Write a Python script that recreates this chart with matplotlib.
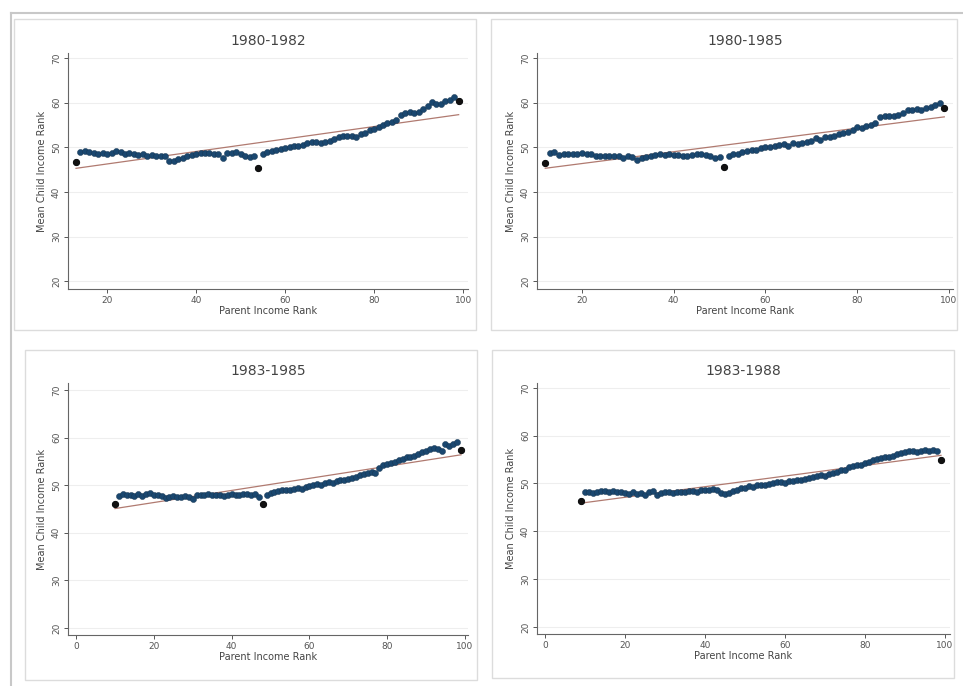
import numpy as np
import matplotlib
matplotlib.use("Agg")
import matplotlib.pyplot as plt
from matplotlib.patches import Rectangle
from matplotlib.lines import Line2D

# mean child income rank by parent income rank, one list per cohort
titles = ["1980-1982", "1980-1985", "1983-1985", "1983-1988"]
first_rank = [13, 12, 10, 9]
dip_rank = [[54], [51], [48], []]   # isolated low points drawn darker

y_8082 = [46.7, 49.0, 49.1, 49.0, 48.8, 48.6, 48.7, 48.6, 48.8, 49.1,
          49.0, 48.6, 48.7, 48.4, 48.3, 48.4, 48.0, 48.2, 48.1, 48.0,
          48.1, 47.0, 46.9, 47.3, 47.6, 48.0, 48.3, 48.5, 48.7, 48.8,
          48.7, 48.6, 48.4, 47.6, 48.8, 48.7, 48.9, 48.6, 48.1, 47.8,
          48.0, 45.4, 48.4, 48.9, 49.2, 49.4, 49.6, 49.8, 50.0, 50.2,
          50.3, 50.6, 51.0, 51.2, 51.1, 51.0, 51.1, 51.5, 51.9, 52.3,
          52.5, 52.6, 52.5, 52.2, 52.9, 53.2, 53.8, 54.2, 54.6, 55.0,
          55.4, 55.6, 56.1, 57.2, 57.7, 57.8, 57.6, 57.9, 58.6, 59.3,
          60.1, 59.6, 59.8, 60.3, 60.6, 61.3, 60.4]

y_8085 = [46.6, 48.8, 49.0, 48.2, 48.6, 48.5, 48.4, 48.6, 48.8, 48.6,
          48.5, 48.1, 48.0, 48.1, 48.0, 48.1, 48.0, 47.7, 48.0, 47.8,
          47.1, 47.6, 47.9, 48.1, 48.2, 48.4, 48.3, 48.5, 48.3, 48.2,
          48.1, 48.0, 48.3, 48.4, 48.4, 48.3, 48.0, 47.6, 47.8, 45.5,
          48.0, 48.4, 48.6, 48.9, 49.1, 49.3, 49.5, 49.8, 50.0, 50.1,
          50.3, 50.5, 50.7, 50.4, 50.9, 50.8, 51.0, 51.3, 51.5, 52.1,
          51.7, 52.2, 52.3, 52.6, 52.9, 53.2, 53.5, 53.8, 54.5, 54.4,
          54.8, 55.0, 55.5, 56.7, 57.0, 57.0, 57.1, 57.2, 57.7, 58.3,
          58.4, 58.5, 58.4, 58.7, 59.1, 59.5, 59.9, 58.8]

y_8385 = [46.0, 47.8, 48.1, 47.9, 48.0, 47.8, 48.1, 47.8, 48.2, 48.3,
          48.0, 47.9, 47.7, 47.4, 47.6, 47.8, 47.5, 47.6, 47.8, 47.5,
          47.0, 47.9, 48.0, 48.0, 48.1, 48.0, 47.9, 48.0, 47.8, 48.0,
          48.1, 48.0, 47.9, 48.1, 48.2, 48.0, 48.1, 47.6, 46.1, 48.0,
          48.3, 48.5, 48.7, 48.9, 49.1, 49.0, 49.3, 49.5, 49.3, 49.7,
          49.8, 50.0, 50.2, 50.1, 50.4, 50.6, 50.5, 50.9, 51.1, 51.0,
          51.4, 51.6, 51.8, 52.1, 52.4, 52.6, 52.8, 52.6, 53.6, 54.3,
          54.4, 54.6, 54.9, 55.3, 55.5, 56.0, 55.9, 56.2, 56.5, 56.9,
          57.3, 57.6, 57.8, 57.6, 57.1, 58.6, 58.3, 58.7, 59.0, 57.4]

y_8388 = [46.4, 48.2, 48.2, 48.0, 48.1, 48.5, 48.4, 48.3, 48.4, 48.2,
          48.3, 47.9, 47.8, 48.1, 47.8, 48.0, 47.5, 48.2, 48.4, 47.5,
          48.0, 48.1, 48.2, 48.0, 48.1, 48.3, 48.2, 48.4, 48.5, 48.3,
          48.6, 48.7, 48.6, 48.8, 48.7, 48.0, 47.8, 47.9, 48.4, 48.6,
          49.0, 49.1, 49.4, 49.2, 49.6, 49.7, 49.6, 49.9, 50.0, 50.2,
          50.3, 50.1, 50.4, 50.6, 50.8, 50.7, 51.0, 51.2, 51.3, 51.5,
          51.7, 51.6, 52.0, 52.2, 52.4, 52.7, 52.9, 53.4, 53.6, 53.8,
          53.9, 54.2, 54.5, 54.8, 55.1, 55.3, 55.5, 55.6, 55.8, 56.1,
          56.3, 56.5, 56.8, 56.7, 56.5, 56.8, 56.9, 56.7, 57.0, 56.8,
          54.9]

series = [y_8082, y_8085, y_8385, y_8388]
x_ticks = [[20, 40, 60, 80, 100], [20, 40, 60, 80, 100],
           [0, 20, 40, 60, 80, 100], [0, 20, 40, 60, 80, 100]]
y_ticks = [20, 30, 40, 50, 60, 70]

W, H = 963, 686
fig = plt.figure(figsize=(W / 100, H / 100), dpi=100)

def px_rect(x0, y0, x1, y1):
    return [x0 / W, 1 - y1 / H, (x1 - x0) / W, (y1 - y0) / H]

# outer screenshot frame
fig.add_artist(Line2D([11 / W, 1], [1 - 13 / H, 1 - 13 / H], color="#c8c8c8", lw=1.5))
fig.add_artist(Line2D([11 / W, 11 / W], [0, 1 - 13 / H], color="#c8c8c8", lw=1.5))

# panel boxes
boxes = [(14, 19, 476, 330), (491, 19, 957, 330), (25, 350, 477, 680), (492, 350, 954, 678)]
for b in boxes:
    r = px_rect(*b)
    fig.add_artist(Rectangle((r[0], r[1]), r[2], r[3], transform=fig.transFigure,
                             fill=False, edgecolor="#dcdcdc", lw=1.0))

axes_px = [(68, 53, 468, 289), (537, 53, 953, 289), (68, 383, 468, 635), (537, 383, 950, 634)]
xlims = [(11.2, 101.1), (10.2, 100.9), (-2.1, 100.8), (-2.0, 101.25)]
ylims = [(18.3, 71.1), (18.3, 71.1), (18.5, 71.5), (18.5, 71.0)]

for i in range(4):
    ax = fig.add_axes(px_rect(*axes_px[i]))
    y = np.array(series[i])
    x = np.arange(first_rank[i], first_rank[i] + len(y))
    ax.grid(axis="y", color="#eeeeee", lw=0.8)
    ax.set_axisbelow(True)
    ax.plot(x, y, "o", color="#1a476f", markersize=4.4, mec="#16344f", mew=0.3, zorder=3)
    dark = np.isin(x, [x[0], x[-1]] + dip_rank[i])
    ax.plot(x[dark], y[dark], "o", color="#111111", markersize=4.2, zorder=4)
    b, a = np.polyfit(x, y, 1)
    ax.plot(x, a + b * x, color="#b07a70", lw=0.9, zorder=2)
    ax.set_xlim(*xlims[i])
    ax.set_ylim(*ylims[i])
    ax.set_xticks(x_ticks[i])
    ax.set_yticks(y_ticks)
    ax.set_yticklabels([str(t) for t in y_ticks], rotation=90, va="center")
    ax.tick_params(labelsize=6.5, colors="#555555", length=3, width=0.7, pad=2)
    for s in ["top", "right"]:
        ax.spines[s].set_visible(False)
    for s in ["left", "bottom"]:
        ax.spines[s].set_color("#666666")
        ax.spines[s].set_linewidth(0.8)
    ax.set_title(titles[i], fontsize=10, color="#444444", pad=6)
    ax.set_xlabel("Parent Income Rank", fontsize=7, color="#444444", labelpad=1)
    ax.set_ylabel("Mean Child Income Rank", fontsize=7, color="#444444", labelpad=4)

fig.savefig("out.png", dpi=100)
